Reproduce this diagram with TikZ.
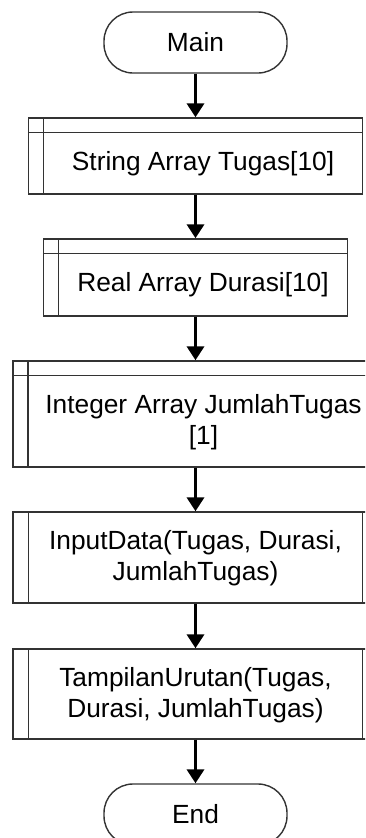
\documentclass[tikz,border=0pt]{standalone}
\usepackage{fontspec}
\setmainfont{Liberation Sans}
\usetikzlibrary{arrows.meta,calc}
\definecolor{edge}{HTML}{333333}
\tikzset{
  frame/.style={draw=edge,line width=1.4pt,inner sep=0pt},
  term/.style={frame,rounded corners=29pt,minimum width=183pt,minimum height=61pt},
  txt/.style={font=\fontsize{26.3}{31}\selectfont,align=center,inner sep=0pt},
  arr/.style={-{Triangle[length=14pt,width=17pt]},line width=3.6pt,black},
  bar/.style={draw=edge,line width=1.4pt},
}
\begin{document}
\begin{tikzpicture}[x=1pt,y=-1pt]
\path[use as bounding box] (0,0) rectangle (365,838);
\clip (0,0) rectangle (365,838);
% start / stop
\node[term] (main) at (195.5,42.5) {};
\node[txt] at (main) {Main};
\node[term] (end) at (195.5,814.5) {};
\node[txt] at (end) {End};
% declarations
\node[frame,minimum width=334pt,minimum height=76pt] (s1) at (195.5,156) {};
\node[frame,minimum width=304pt,minimum height=77pt] (s2) at (195.5,277.5) {};
\node[frame,minimum width=365pt,minimum height=106pt] (s3) at (195.5,414) {};
\foreach \n in {s1,s2,s3}{
  \draw[bar] ([yshift=-15pt]\n.north west) -- ([yshift=-15pt]\n.north east);
  \draw[bar] ([xshift=15.5pt]\n.north west) -- ([xshift=15.5pt]\n.south west);}
\node[txt] at (203,163.5) {String Array Tugas[10]};
\node[txt] at (203,285) {Real Array Durasi[10]};
\node[txt] at (203.5,422) {Integer Array JumlahTugas\\\relax[1]};
% sub-procedures
\node[frame,minimum width=365pt,minimum height=91pt] (p1) at (195.5,557.5) {};
\node[frame,minimum width=365pt,minimum height=90pt] (p2) at (195.5,694) {};
\foreach \n in {p1,p2}{
  \draw[bar] ([xshift=16pt]\n.north west) -- ([xshift=16pt]\n.south west);
  \draw[bar] ([xshift=-16pt]\n.north east) -- ([xshift=-16pt]\n.south east);}
\node[txt] at (195.5,558) {InputData(Tugas, Durasi,\\JumlahTugas)};
\node[txt] at (195.5,695) {TampilanUrutan(Tugas,\\Durasi, JumlahTugas)};
% flow
\foreach \a/\b in {main/s1,s1/s2,s2/s3,s3/p1,p1/p2,p2/end}
  \draw[arr] (\a.south) -- (\b.north);
\end{tikzpicture}
\end{document}
